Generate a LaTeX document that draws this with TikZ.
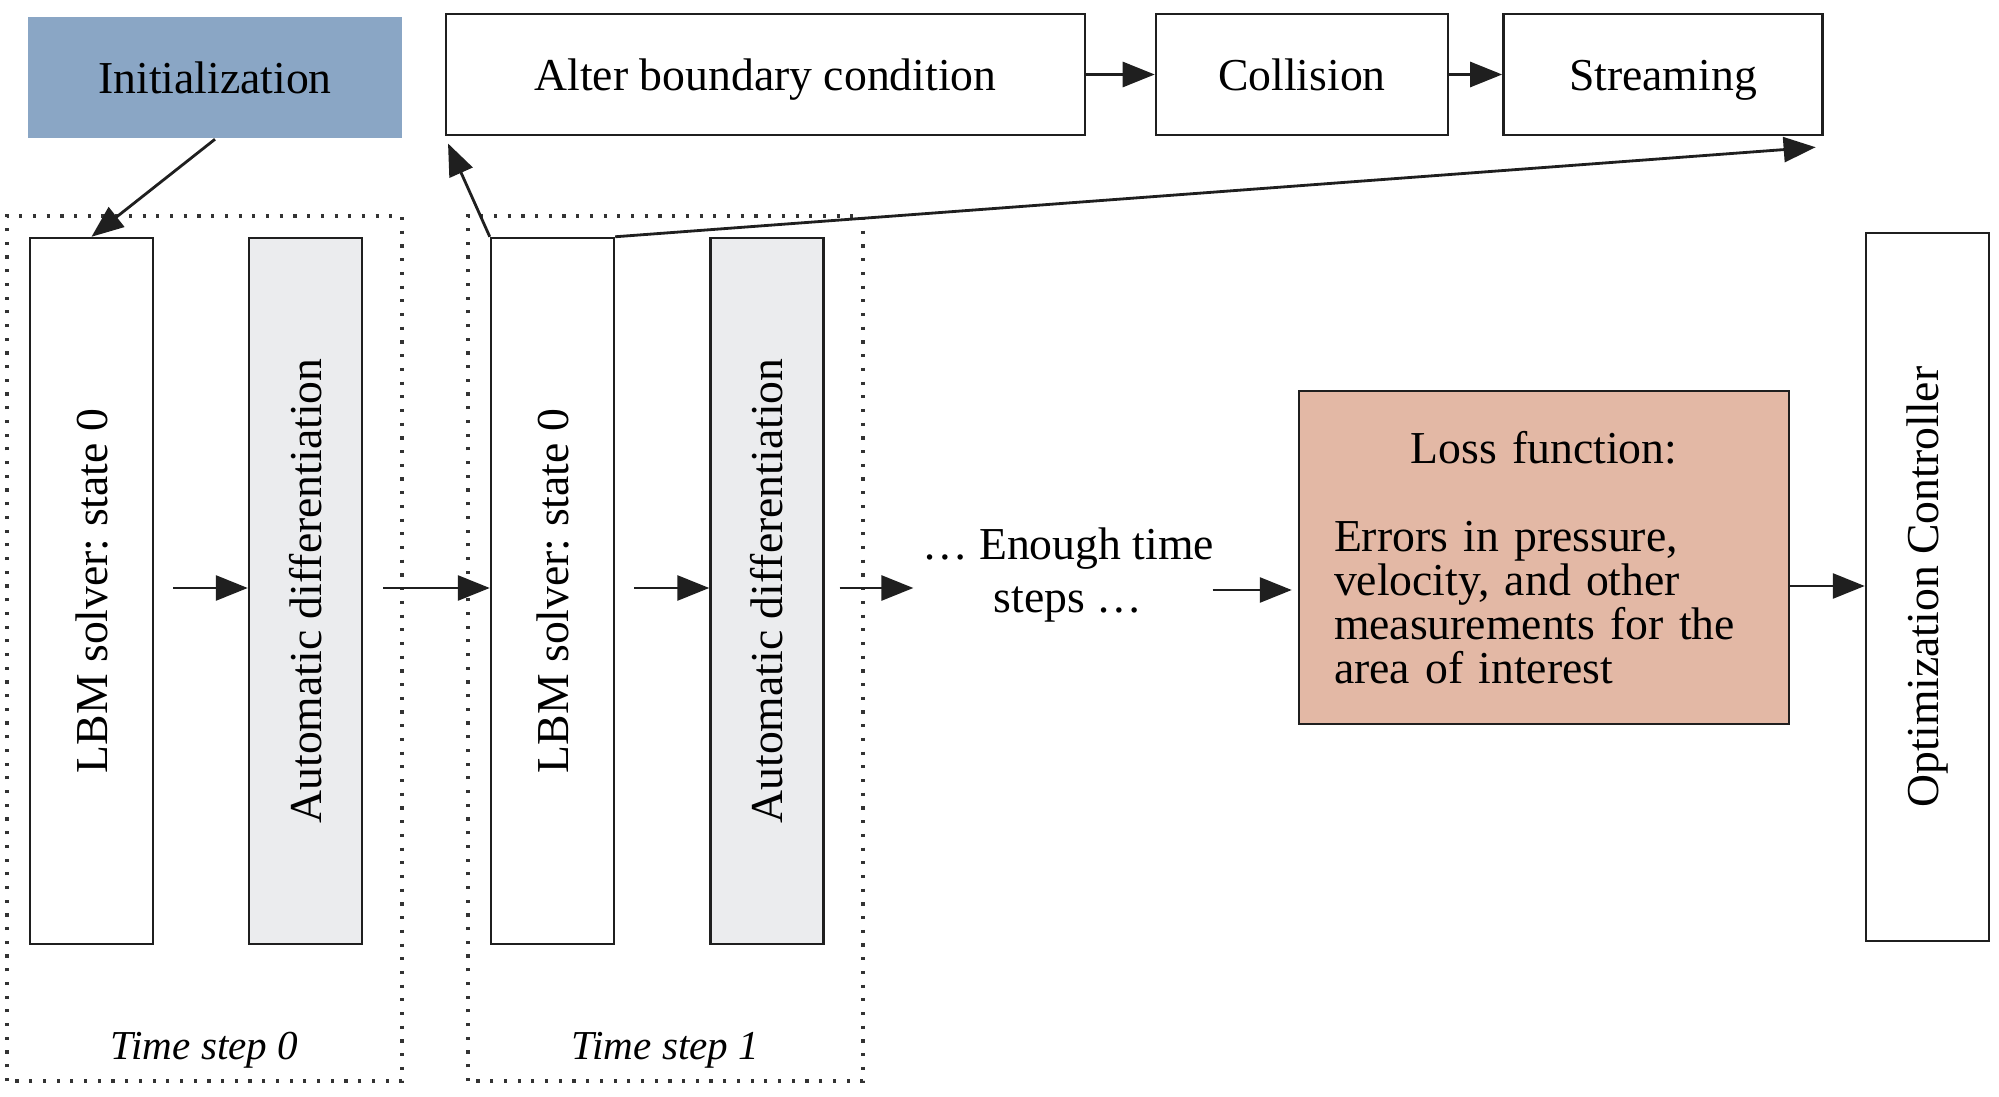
\documentclass[tikz,border=0pt]{standalone}
\usepackage{fontspec}
\setmainfont{Liberation Serif}
\usepackage{graphicx}
\usetikzlibrary{arrows.meta, positioning}
\definecolor{InitBlue}{HTML}{8AA6C5}
\definecolor{AutoGray}{HTML}{EBECEE}
\definecolor{LossRose}{HTML}{E3B8A5}
\newcommand{\vtext}[1]{\rotatebox{90}{#1}}
\frenchspacing

\begin{document}
\begin{tikzpicture}[
  box/.style   = {draw=black!88, line width=0.7pt, fill=white, inner sep=0pt,
                  font=\fontsize{13}{15}\selectfont, align=center},
  tbox/.style  = {box, minimum height=1.21cm, text height=9pt, text depth=0pt},
  col/.style   = {box, minimum width=1.23cm, minimum height=7.06cm},
  gcol/.style  = {col, fill=AutoGray, minimum width=1.13cm},
  arr/.style   = {-{Triangle[length=0.32cm, width=0.25cm]}, line width=0.8pt, black!88},
  grp/.style   = {draw=black!80, line width=0.9pt, dash pattern=on 0.9pt off 3pt},
  lbl/.style   = {font=\fontsize{11.7}{14}\selectfont\itshape},
]
\useasboundingbox (0,0) rectangle (19.99,10.96);

% top row
\node[tbox, draw=none, fill=InitBlue, minimum width=3.74cm] (init) at (2.15,10.185) {Initialization};
\node[tbox, minimum width=6.39cm] (alter) at (7.655,10.215) {Alter boundary condition};
\node[tbox, minimum width=2.92cm, right=0.685cm of alter] (collision) {Collision};
\node[tbox, minimum width=3.19cm, right=0.53cm of collision] (streaming) {Streaming};

% time step groups
\draw[grp] (0.07,0.15) rectangle (4.02,8.80);
\draw[grp] (4.68,0.15) rectangle (8.63,8.80);
\node[lbl] (ts0) at (2.045,0.46) {Time step 0};
\node[lbl] (ts1) at (6.655,0.46) {Time step 1};

\node[col]  (lbm0) at (0.915,5.05) {\vtext{LBM solver: state 0}};
\node[gcol] (ad0)  at (3.055,5.05) {\vtext{Automatic differentiation}};
\node[col]  (lbm1) at (5.525,5.05) {\vtext{LBM solver: state 0}};
\node[gcol] (ad1)  at (7.67,5.05)  {\vtext{Automatic differentiation}};

% right part
\node[font=\fontsize{13}{15.3}\selectfont, align=center, inner xsep=0.08cm, inner ysep=0pt]
  (steps) at (10.68,5.21) {… Enough time\\ steps …};
\node[box, fill=LossRose, minimum width=4.9cm, minimum height=3.33cm, text width=4.2cm,
      inner xsep=0.35cm, align=left, font=\fontsize{13}{12.5}\selectfont]
  (loss) at (15.44,5.385)
  {\makebox[4.2cm][c]{Loss function:}\\ \strut\\ Errors in pressure,\\ velocity, and other\\ measurements for the\\ area of interest};
\node[col, minimum height=7.08cm] (ctrl) at (19.275,5.09) {\vtext{Optimization Controller}};

% connectors
\draw[arr] (init.south) -- (lbm0.north);
\draw[arr] (alter) -- (collision);
\draw[arr] (collision) -- (streaming);
\draw[arr, shorten >=0.08cm] (lbm1.north west) -- (alter.south west);
\draw[arr] (lbm1.north east) -- ([xshift=-0.08cm, yshift=-0.11cm]streaming.south east);
\draw[arr, shorten <=0.19cm] ([yshift=0.03cm]lbm0.east) -- ([yshift=0.03cm]ad0.west);
\draw[arr, shorten <=0.2cm]  ([yshift=0.03cm]ad0.east) -- ([yshift=0.03cm]lbm1.west);
\draw[arr, shorten <=0.19cm] ([yshift=0.03cm]lbm1.east) -- ([yshift=0.03cm]ad1.west);
\draw[arr, shorten <=0.15cm] ([yshift=0.03cm]ad1.east) -- (steps.west |- 0,5.08);
\draw[arr] ([xshift=-0.1cm]steps.east |- 0,5.06) -- ([xshift=-0.06cm]loss.west |- 0,5.06);
\draw[arr] (loss.east |- 0,5.1) -- (ctrl.west |- 0,5.1);
\end{tikzpicture}
\end{document}
